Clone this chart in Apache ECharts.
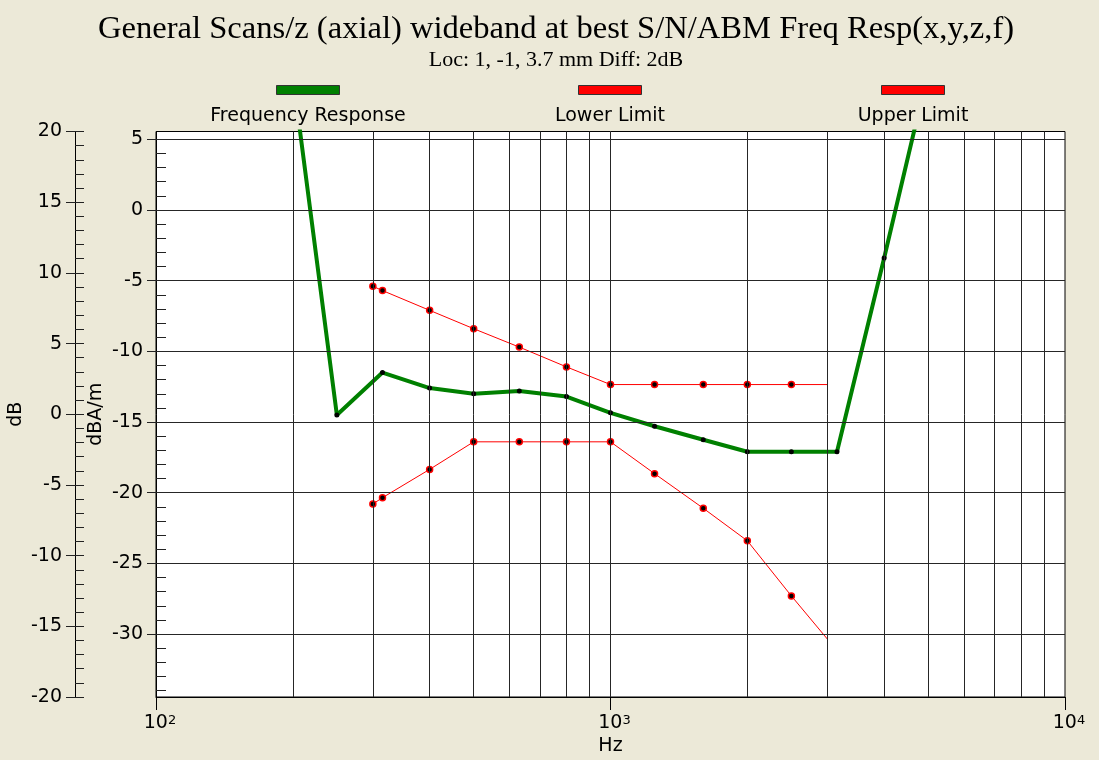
<!DOCTYPE html>
<html>
<head>
<meta charset="utf-8">
<title>General Scans/z Freq Resp</title>
<script src="https://cdn.jsdelivr.net/npm/echarts@6.0.0/dist/echarts.min.js"></script>
<style>
  html, body { margin: 0; padding: 0; background: #ece9d8; }
  #chart { width: 1099px; height: 760px; }
</style>
</head>
<body>
<div id="chart"></div>
<script type="text/javascript">
// frequency response, dBA/m
var respFreq  = [200, 250, 315, 400, 500, 630, 800, 1000, 1250, 1600, 2000, 2500, 3150, 4000, 5000];
var respLevel = [9.5, -14.5, -11.5, -12.6, -13.0, -12.8, -13.2, -14.35, -15.3, -16.25, -17.1, -17.1, -17.1, -3.4, 9.8];

// limits (last point has no marker)
var limitFreq  = [300, 315, 400, 500, 630, 800, 1000, 1250, 1600, 2000, 2500, 3000];
var upperLevel = [-5.4, -5.7, -7.1, -8.4, -9.7, -11.1, -12.35, -12.35, -12.35, -12.35, -12.35, -12.35];
var lowerLevel = [-20.8, -20.35, -18.35, -16.4, -16.4, -16.4, -16.4, -18.65, -21.1, -23.4, -27.3, -30.35];

var seriesNames = ['Frequency Response', 'Lower Limit', 'Upper Limit'];

// axes
var xTicks = [100, 1000, 10000];
var xGridLines = [200, 300, 400, 500, 600, 700, 800, 900, 1000,
                  2000, 3000, 4000, 5000, 6000, 7000, 8000, 9000];
var dbaTicks = [5, 0, -5, -10, -15, -20, -25, -30];
var dbaMinorTicks = [5, 4, 3, 2, 1, 0, -1, -2, -3, -4, -5, -6, -7, -8, -9, -10,
                     -11, -12, -13, -14, -15, -16, -17, -18, -19, -20, -21, -22,
                     -23, -24, -25, -26, -27, -28, -29, -30, -31, -32, -33, -34];
var dbTicks = [20, 15, 10, 5, 0, -5, -10, -15, -20];

var LABEL_FONT = 'DejaVu Sans';

function toPoints(freqs, levels, lastBare) {
    return freqs.map(function (f, i) {
        if (lastBare && i === freqs.length - 1) {
            return { value: [f, levels[i]], symbol: 'none' };
        }
        return [f, levels[i]];
    });
}

// legend drawn as swatch above text
var legendColors = ['#008000', '#ff0000', '#ff0000'];
var legendCenters = [308, 610, 913];
var legendGraphics = [];
seriesNames.forEach(function (name, i) {
    legendGraphics.push({
        type: 'rect',
        shape: { x: legendCenters[i] - 31.5, y: 85.5, width: 63, height: 9 },
        style: { fill: legendColors[i], stroke: '#333', lineWidth: 1 }
    });
    legendGraphics.push({
        type: 'text',
        style: {
            x: legendCenters[i], y: 116, text: name,
            align: 'center', verticalAlign: 'middle',
            font: '19px "DejaVu Sans"', fill: '#000'
        }
    });
});

var myChart = echarts.init(document.getElementById('chart'), null, { renderer: 'canvas' });

var option = {
    backgroundColor: '#ece9d8',
    animation: false,
    title: [{
        text: 'General Scans/z (axial) wideband at best S/N/ABM Freq Resp(x,y,z,f)',
        left: 556, top: 13, padding: 0, textAlign: 'center',
        textStyle: { fontFamily: 'Liberation Serif', fontSize: 32.6, fontWeight: 'normal', color: '#000' }
    }, {
        text: 'Loc: 1, -1, 3.7 mm Diff: 2dB',
        left: 556, top: 49, padding: 0, textAlign: 'center',
        textStyle: { fontFamily: 'Liberation Serif', fontSize: 22, fontWeight: 'normal', color: '#000' }
    }],
    graphic: legendGraphics,
    grid: {
        left: 156, right: 34, top: 131.5, bottom: 63,
        containLabel: false, outerBoundsMode: 'none',
        show: true, backgroundColor: '#fff', borderColor: '#000', borderWidth: 1
    },
    xAxis: {
        type: 'log', logBase: 10, min: 100, max: 10000,
        name: 'Hz', nameLocation: 'middle', nameGap: 40, nameMoveOverlap: false,
        nameTextStyle: { fontFamily: LABEL_FONT, fontSize: 19, color: '#000' },
        axisLine: { onZero: false, lineStyle: { color: '#000', width: 1 } },
        axisTick: { customValues: xTicks, length: 13, lineStyle: { color: '#000' } },
        axisLabel: {
            customValues: xTicks, margin: 17,
            formatter: function (v) {
                return '{b|10}{s|' + Math.round(Math.log10(v)) + '}';
            },
            rich: {
                b: { fontFamily: LABEL_FONT, fontSize: 19, color: '#000', padding: [0, 0, 0, 8] },
                s: { fontFamily: LABEL_FONT, fontSize: 13, color: '#000', verticalAlign: 'top' }
            }
        },
        splitLine: { show: false }
    },
    yAxis: [{
        // dBA/m, data axis
        type: 'value', position: 'left', offset: 0, min: -34.45, max: 5.55,
        name: 'dBA/m', nameLocation: 'middle', nameGap: 50, nameMoveOverlap: false,
        nameTextStyle: { fontFamily: LABEL_FONT, fontSize: 19, color: '#000' },
        axisLine: { show: true, onZero: false, lineStyle: { color: '#000', width: 1 } },
        axisTick: { show: true, customValues: dbaTicks, length: 9, lineStyle: { color: '#222' } },
        axisLabel: { customValues: dbaTicks, margin: 13, fontFamily: LABEL_FONT, fontSize: 19, color: '#000' },
        splitLine: { show: false }
    }, {
        type: 'value', position: 'left', offset: 0, min: -34.45, max: 5.55,
        axisLine: { show: false, onZero: false },
        axisTick: { show: true, inside: true, customValues: dbaMinorTicks, length: 10, lineStyle: { color: '#222' } },
        axisLabel: { show: false },
        splitLine: { show: false }
    }, {
        // dB, outer axis
        type: 'value', position: 'left', offset: 81, min: -20, max: 20,
        name: 'dB', nameLocation: 'middle', nameGap: 49, nameMoveOverlap: false,
        nameTextStyle: { fontFamily: LABEL_FONT, fontSize: 19, color: '#000' },
        axisLine: { show: true, onZero: false, lineStyle: { color: '#000', width: 1 } },
        axisTick: { show: true, customValues: dbTicks, length: 9, lineStyle: { color: '#222' } },
        axisLabel: { customValues: dbTicks, margin: 13, fontFamily: LABEL_FONT, fontSize: 19, color: '#000' },
        splitLine: { show: false }
    }, {
        type: 'value', position: 'left', offset: 81, min: -20, max: 20, interval: 1,
        axisLine: { show: false, onZero: false },
        axisTick: { show: true, inside: true, length: 9, lineStyle: { color: '#222' } },
        axisLabel: { show: false },
        splitLine: { show: false }
    }],
    series: [{
        // grid lines
        type: 'line', data: [], silent: true, z: 1,
        markLine: {
            silent: true, symbol: 'none', animation: false,
            label: { show: false },
            lineStyle: { color: '#262626', width: 1, type: 'solid' },
            emphasis: { disabled: true },
            data: xGridLines.map(function (v) { return { xAxis: v }; })
                .concat(dbaTicks.map(function (v) { return { yAxis: v }; }))
        }
    }, {
        name: seriesNames[1], type: 'line', z: 3,
        data: toPoints(limitFreq, lowerLevel, true),
        symbol: 'circle', symbolSize: 6, showAllSymbol: true,
        lineStyle: { color: '#ff0000', width: 1 },
        itemStyle: { color: '#000', borderColor: '#ff0000', borderWidth: 1.5 }
    }, {
        name: seriesNames[2], type: 'line', z: 3,
        data: toPoints(limitFreq, upperLevel, true),
        symbol: 'circle', symbolSize: 6, showAllSymbol: true,
        lineStyle: { color: '#ff0000', width: 1 },
        itemStyle: { color: '#000', borderColor: '#ff0000', borderWidth: 1.5 }
    }, {
        name: seriesNames[0], type: 'line', z: 4, clip: true,
        data: toPoints(respFreq, respLevel, false),
        symbol: 'circle', symbolSize: 5, showAllSymbol: true,
        lineStyle: { color: '#008000', width: 4 },
        itemStyle: { color: '#000', borderWidth: 0 }
    }]
};
myChart.setOption(option);
</script>
</body>
</html>
